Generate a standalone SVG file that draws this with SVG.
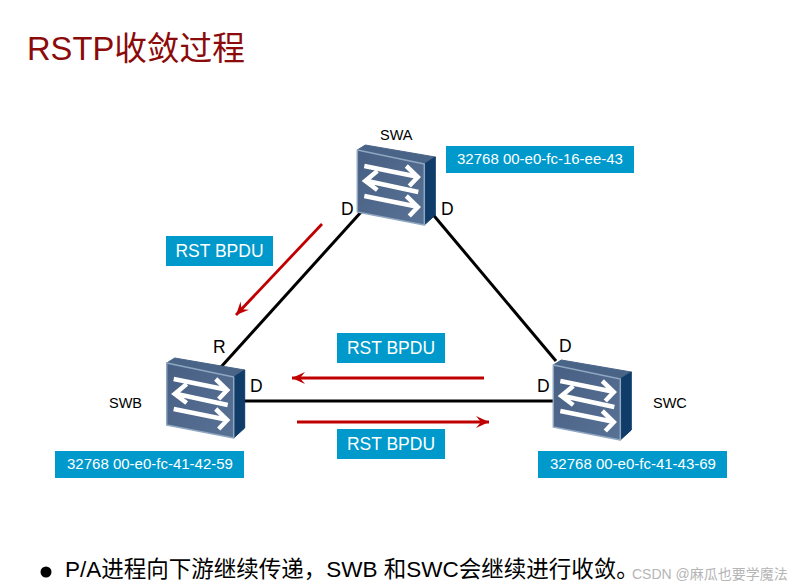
<svg xmlns="http://www.w3.org/2000/svg" width="796" height="588" viewBox="0 0 796 588">
<style>
text{font-family:"Liberation Sans","Noto Sans CJK SC",sans-serif;fill:#000}
.n{font-size:14.500px}
.p{font-size:17.500px}
.b{fill:#0099cc}
.w{fill:#fff;font-size:15px;text-anchor:middle}
.r{fill:#fff;font-size:17.500px;text-anchor:middle}
.c{stroke:#000;stroke-width:3;fill:none}
.a{stroke:#c00000;stroke-width:2.800;fill:none;marker-end:url(#h)}
.ar{stroke:#fff;stroke-width:4.500;fill:none}
</style>
<defs>
<marker id="h" markerUnits="userSpaceOnUse" markerWidth="16" markerHeight="16" refX="13" refY="6" orient="auto"><path d="M0 0L13 6L0 12L5 6Z" fill="#c00000"/></marker>
<linearGradient id="f" x1="0" y1="0" x2="1" y2="1"><stop offset="0" stop-color="#475f82"/><stop offset="1" stop-color="#587296"/></linearGradient>
<g id="sw">
<path d="M0 0L8-5L78 7L67 14Z" fill="#4a6488" stroke="#4a6488" stroke-linejoin="round"/>
<path d="M67 14L78 7L78 65L67 75Z" fill="#0f3c68" stroke="#0f3c68" stroke-linejoin="round"/>
<path d="M0 0L67 14L67 75L0 62Z" fill="url(#f)" stroke="#8fa7c0" stroke-width="1.500" stroke-linejoin="round"/>
<path class="ar" d="M7 16L59 26.500M49 16L60.500 27L52 36"/>
<path class="ar" d="M61 42L10 31M20 21L8 31L20 40"/>
<path class="ar" d="M7 46L59 56.500M49 46L60.500 57L52 66"/>
</g>
</defs>
<text x="27" y="60" font-size="32.700" style="fill:#8b0a0a">RSTP收敛过程</text>
<g id="connectors">
<path class="c" d="M362 211L221 367"/>
<path class="c" d="M430 211L556 361"/>
<path class="c" d="M244 401L554 401"/>
<path class="a" d="M322 224L236 315"/>
<path class="a" d="M484 378L292 378"/>
<path class="a" d="M297 422L489 422"/>
</g>
<g id="swa"><use href="#sw" x="357.300" y="150"/><text class="n" x="380" y="140">SWA</text></g>
<g id="swb"><use href="#sw" x="166.700" y="363"/><text class="n" x="109" y="408">SWB</text></g>
<g id="swc"><use href="#sw" x="553.300" y="365"/><text class="n" x="653" y="408">SWC</text></g>
<g id="ports">
<text class="p" x="341" y="215">D</text><text class="p" x="441" y="215">D</text>
<text class="p" x="213" y="353">R</text><text class="p" x="250" y="392">D</text>
<text class="p" x="559" y="352">D</text><text class="p" x="537" y="392">D</text>
</g>
<g id="id-swa"><rect class="b" x="446" y="146" width="188" height="27"/><text class="w" x="540" y="164">32768 00-e0-fc-16-ee-43</text></g>
<g id="id-swb"><rect class="b" x="55" y="451" width="189" height="27"/><text class="w" x="150" y="469">32768 00-e0-fc-41-42-59</text></g>
<g id="id-swc"><rect class="b" x="538" y="451" width="189" height="27"/><text class="w" x="633" y="469">32768 00-e0-fc-41-43-69</text></g>
<g id="bpdu1"><rect class="b" x="166" y="236" width="107" height="30"/><text class="r" x="219.500" y="257">RST BPDU</text></g>
<g id="bpdu2"><rect class="b" x="337" y="333" width="108" height="30"/><text class="r" x="391" y="354">RST BPDU</text></g>
<g id="bpdu3"><rect class="b" x="337" y="429" width="108" height="30"/><text class="r" x="391" y="450">RST BPDU</text></g>
<circle cx="46" cy="572" r="5.500" fill="#000"/>
<text x="65" y="577" font-size="22.500">P/A进程向下游继续传递，SWB 和SWC会继续进行收敛。</text>
<text x="632" y="579" font-size="14" style="fill:#b5b5b5">CSDN @麻瓜也要学魔法</text>
</svg>
